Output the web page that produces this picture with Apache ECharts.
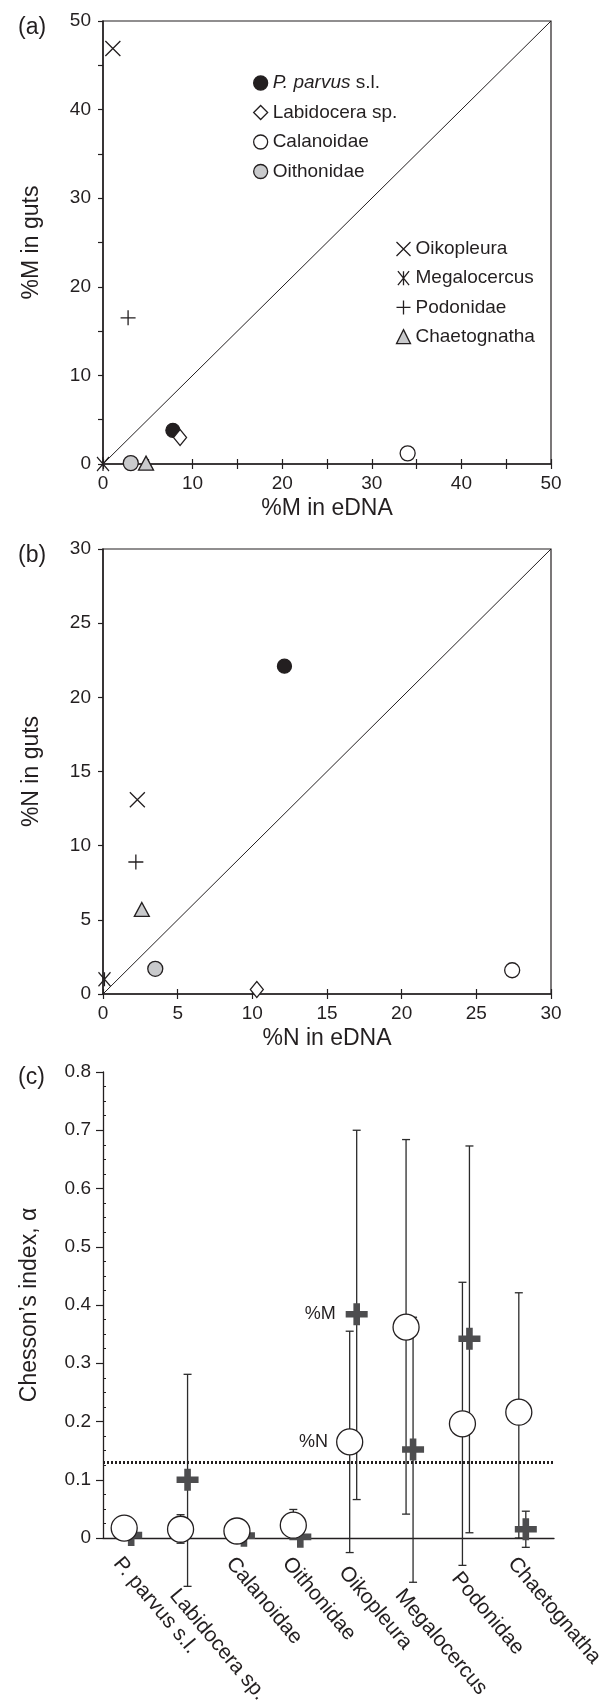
<!DOCTYPE html>
<html>
<head>
<meta charset="utf-8">
<script src="https://cdn.jsdelivr.net/npm/echarts@6/dist/echarts.min.js"></script>
<style>
  html, body { margin: 0; padding: 0; background: #fff; }
  #main { width: 606px; height: 1701px; }
</style>
</head>
<body>
<div id="main"></div>
<script>
// prey taxa
const taxa = ['P. parvus s.l.', 'Labidocera sp.', 'Calanoidae', 'Oithonidae',
  'Oikopleura', 'Megalocercus', 'Podonidae', 'Chaetognatha'];

// (a) %M in eDNA vs %M in guts
const eDnaM = [7.8, 8.6, 34.0, 3.1, 1.1, 0, 2.8, 4.8];
const gutsM = [3.8, 3.0, 1.2, 0.1, 46.9, 0, 16.5, 0.1];

// (b) %N in eDNA vs %N in guts
const eDnaN = [12.15, 10.3, 27.4, 3.5, 2.3, 0.1, 2.2, 2.6];
const gutsN = [22.1, 0.3, 1.6, 1.7, 13.1, 1.0, 8.9, 5.7];

// (c) Chesson's index, alpha, with error bars
const alphaN = [0.017, 0.015, 0.012, 0.022, 0.165, 0.362, 0.196, 0.216];
const alphaNLow = [null, -0.009, null, 0.0, -0.025, 0.041, -0.047, 0.0];
const alphaNHigh = [null, 0.040, null, 0.049, 0.355, 0.684, 0.439, 0.421];
const alphaM = [0.005, 0.100, 0.004, 0.002, 0.384, 0.152, 0.342, 0.015];
const alphaMLow = [null, -0.083, null, null, 0.066, -0.076, 0.009, -0.016];
const alphaMHigh = [null, 0.281, null, null, 0.700, 0.379, 0.673, 0.046];
const neutral = 0.125; // 1 / number of taxa

// extra drop (px) of some category labels, to clear the error bars
const labelDrop = [0, 32, 0, 0, 9, 32, 15, 0];

const ink = '#231f20';
const grey = '#c9cacc';
const font = '"Liberation Sans", Arial, Helvetica, sans-serif';

const markers = {
  'P. parvus s.l.': { symbol: 'circle', size: 14, color: ink, border: ink },
  'Labidocera sp.': { symbol: 'diamond', size: [13, 16], color: '#fff', border: ink },
  'Calanoidae': { symbol: 'circle', size: 15, color: '#fff', border: ink },
  'Oithonidae': { symbol: 'circle', size: 15, color: grey, border: ink },
  'Oikopleura': { symbol: 'path://M0,0L20,20M20,0L0,20', size: 15, color: 'none', border: ink },
  'Megalocercus': { symbol: 'path://M0,0L16,20M16,0L0,20M8,0L8,20', size: [12, 14], color: 'none', border: ink },
  'Podonidae': { symbol: 'path://M10,0L10,20M0,10L20,10', size: 15, color: 'none', border: ink },
  'Chaetognatha': { symbol: 'triangle', size: [15, 14], color: grey, border: ink }
};

const plus = 'path://M7,0H13V7H20V13H13V20H7V13H0V7H7Z';

const tickText = { fontFamily: font, fontSize: 19, color: ink };
const nameText = { fontFamily: font, fontSize: 23, color: ink };

function scatterAxes(grid, max, labelStep, xName, yName) {
  const common = {
    gridIndex: grid, type: 'value', min: 0, max: max, interval: 5,
    splitLine: { show: false },
    axisLine: { show: true, onZero: false, lineStyle: { color: ink, width: 1.5 } },
    axisTick: { show: true, length: 5, lineStyle: { color: ink, width: 1.2 } },
    nameLocation: 'middle', nameTextStyle: nameText
  };
  const fmt = v => (v % labelStep === 0 ? String(v) : '');
  return {
    x: [
      Object.assign({}, common, {
        position: 'bottom', name: xName, nameGap: 33,
        axisLabel: Object.assign({ margin: 10, formatter: fmt }, tickText)
      }),
      // inner half of the crossing ticks
      Object.assign({}, common, {
        position: 'bottom', axisLine: { show: false },
        axisTick: { show: true, inside: true, length: 5, lineStyle: { color: ink, width: 1.2 } },
        axisLabel: { show: false }, name: ''
      })
    ],
    y: [
      Object.assign({}, common, {
        position: 'left', name: yName, nameGap: 60,
        axisLabel: Object.assign({ margin: 12, formatter: fmt }, tickText)
      })
    ]
  };
}

const axA = scatterAxes(0, 50, 10, '%M in eDNA', '%M in guts');
const axB = scatterAxes(1, 30, 5, '%N in eDNA', '%N in guts');

function scatterSeries(xIdx, yIdx, xs, ys, max) {
  const out = taxa.map((t, i) => {
    const m = markers[t];
    return {
      name: t, type: 'scatter', xAxisIndex: xIdx, yAxisIndex: yIdx,
      symbol: m.symbol, symbolSize: m.size,
      itemStyle: { color: m.color, borderColor: m.border, borderWidth: 1.3, opacity: 1 },
      emphasis: { disabled: true },
      clip: false, z: 5,
      data: [[xs[i], ys[i]]]
    };
  });
  out.push({
    type: 'line', xAxisIndex: xIdx, yAxisIndex: yIdx, silent: true,
    showSymbol: false, symbol: 'none',
    lineStyle: { color: ink, width: 1 }, z: 3,
    data: [[0, 0], [max, max]]
  });
  return out;
}

function errorBars(low, high, dx, color) {
  const data = [];
  taxa.forEach((t, i) => { if (low[i] !== null) data.push([i, low[i], high[i]]); });
  return {
    type: 'custom', xAxisIndex: 4, yAxisIndex: 3, clip: false, silent: true, z: 2,
    renderItem: function (params, api) {
      const lo = api.coord([api.value(0), api.value(1)]);
      const hi = api.coord([api.value(0), api.value(2)]);
      const x = lo[0] + dx;
      const st = { stroke: color, lineWidth: 1.3 };
      return {
        type: 'group', children: [
          { type: 'line', shape: { x1: x, y1: lo[1], x2: x, y2: hi[1] }, style: st },
          { type: 'line', shape: { x1: x - 4, y1: lo[1], x2: x + 4, y2: lo[1] }, style: st },
          { type: 'line', shape: { x1: x - 4, y1: hi[1], x2: x + 4, y2: hi[1] }, style: st }
        ]
      };
    },
    encode: { x: 0, y: [1, 2] },
    data: data
  };
}

// one label-only category axis per drop distance (pure vertical shift)
const labelAxes = [...new Set(labelDrop)].map(d => ({
  gridIndex: 3, type: 'category', data: taxa, boundaryGap: true, position: 'bottom',
  axisLine: { show: false }, axisTick: { show: false },
  axisLabel: {
    rotate: -50, margin: 22 + d, interval: 0, fontSize: 21, fontFamily: font, color: ink,
    formatter: (v, i) => (labelDrop[i] === d ? v : '')
  }
}));

const legendText = {
  fontFamily: font, fontSize: 19, color: ink, lineHeight: 20,
  rich: { i: { fontFamily: font, fontSize: 19, color: ink, fontStyle: 'italic' } }
};
function legendItems(names) {
  return names.map(n => ({
    name: n,
    itemStyle: { color: markers[n].color, borderColor: markers[n].border, borderWidth: 1.3 }
  }));
}

const chart = echarts.init(document.getElementById('main'), null, { renderer: 'canvas' });

const option = {
  backgroundColor: '#fff',
  animation: false,
  textStyle: { fontFamily: font },
  title: [
    { text: '(a)', left: 13, top: 11, textStyle: { fontFamily: font, fontSize: 23, fontWeight: 'normal', color: ink } },
    { text: '(b)', left: 13, top: 539, textStyle: { fontFamily: font, fontSize: 23, fontWeight: 'normal', color: ink } },
    { text: '(c)', left: 13, top: 1061, textStyle: { fontFamily: font, fontSize: 23, fontWeight: 'normal', color: ink } }
  ],
  grid: [
    { left: 103, top: 21, width: 448, height: 443, show: true, borderColor: ink, borderWidth: 1.2, outerBoundsMode: 'none' },
    { left: 103, top: 549, width: 448, height: 445, show: true, borderColor: ink, borderWidth: 1.2, outerBoundsMode: 'none' },
    { left: 103, top: 1072, width: 451, height: 466, outerBoundsMode: 'none' },
    // label strip for panel (c): same band layout, shifted a little left
    { left: 89, top: 1072, width: 451, height: 466, outerBoundsMode: 'none' }
  ],
  legend: [
    {
      data: legendItems(taxa.slice(0, 4)), orient: 'vertical', left: 248, top: 68,
      itemWidth: 14, itemHeight: 14, itemGap: 9.5, selectedMode: false,
      textStyle: legendText,
      formatter: n => (n === 'P. parvus s.l.' ? '{i|P. parvus} s.l.' : n)
    },
    {
      data: legendItems(taxa.slice(4)), orient: 'vertical', left: 389, top: 234,
      itemWidth: 14, itemHeight: 14, itemGap: 9.2, selectedMode: false,
      textStyle: legendText
    }
  ],
  xAxis: [
    axA.x[0], axA.x[1], axB.x[0], axB.x[1],
    {
      gridIndex: 2, type: 'category', data: taxa, boundaryGap: true, position: 'bottom',
      axisLine: { show: true, onZero: true, lineStyle: { color: ink, width: 1.3 } },
      axisTick: { show: false },
      axisLabel: { show: false }
    },
    ...labelAxes
  ],
  yAxis: [
    axA.y[0], axB.y[0],
    // minor ticks of panel (c), drawn inside
    {
      gridIndex: 2, type: 'value', position: 'left', min: 0, max: 0.8, interval: 0.1,
      axisLine: { show: false }, splitLine: { show: false },
      axisTick: { show: false, inside: true },
      minorTick: { show: true, splitNumber: 4, length: 3, lineStyle: { color: ink, width: 1 } },
      axisLabel: { show: false }
    },
    {
      gridIndex: 2, type: 'value', position: 'left', min: 0, max: 0.8, interval: 0.1,
      name: 'Chesson\u2019s index, \u03b1', nameLocation: 'middle', nameGap: 62, nameTextStyle: nameText,
      axisLine: { show: true, onZero: false, lineStyle: { color: ink, width: 1.3 } },
      splitLine: { show: false },
      axisTick: { show: true, length: 7, lineStyle: { color: ink, width: 1.2 } },
      axisLabel: Object.assign({ margin: 12, formatter: v => (v === 0 ? '0' : v.toFixed(1)) }, tickText)
    },
    { gridIndex: 3, type: 'value', min: 0, max: 0.8, show: false }
  ],
  series: [
    ...scatterSeries(0, 0, eDnaM, gutsM, 50),
    ...scatterSeries(2, 1, eDnaN, gutsN, 30),
    errorBars(alphaMLow, alphaMHigh, 0, '#2b2b2b'),
    errorBars(alphaNLow, alphaNHigh, -7, '#2b2b2b'),
    {
      name: '%M', type: 'scatter', xAxisIndex: 4, yAxisIndex: 3, z: 4,
      symbol: plus, symbolSize: 22, clip: false,
      itemStyle: { color: '#4d4d4f', opacity: 1 },
      emphasis: { disabled: true },
      data: alphaM.map((v, i) => (i === 4
        ? { value: v, label: { show: true, position: 'left', distance: 10, formatter: '%M', fontFamily: font, fontSize: 18, color: ink } }
        : v))
    },
    {
      name: '%N', type: 'scatter', xAxisIndex: 4, yAxisIndex: 3, z: 6,
      symbol: 'circle', symbolSize: 26, symbolOffset: [-7, 0], clip: false,
      itemStyle: { color: '#fff', borderColor: ink, borderWidth: 1.3, opacity: 1 },
      emphasis: { disabled: true },
      data: alphaN.map((v, i) => (i === 4
        ? { value: v, label: { show: true, position: 'left', distance: 8, formatter: '%N', fontFamily: font, fontSize: 18, color: ink } }
        : v)),
      markLine: {
        silent: true, symbol: 'none', label: { show: false },
        lineStyle: { color: ink, width: 3, type: [2, 2] },
        data: [{ yAxis: neutral }]
      }
    }
  ]
};

chart.setOption(option);
</script>
</body>
</html>
